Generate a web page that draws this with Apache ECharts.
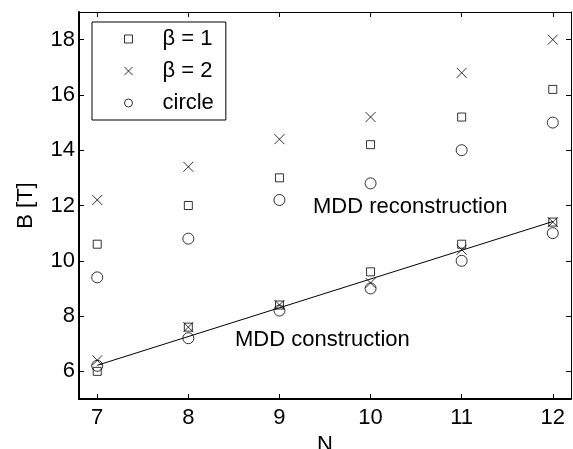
<!DOCTYPE html>
<html>
<head>
<meta charset="utf-8">
<script src="https://cdn.jsdelivr.net/npm/echarts@6/dist/echarts.min.js"></script>
<style>html,body{margin:0;padding:0;background:#fff}#c{width:573px;height:449px}</style>
</head>
<body>
<div id="c"></div>
<script>
var N = [7, 8, 9, 10, 11, 12];
var beta1Recon = [10.6, 12.0, 13.0, 14.2, 15.2, 16.2];
var beta1Con = [6.0, 7.6, 8.4, 9.6, 10.6, 11.4];
var beta2Recon = [12.2, 13.4, 14.4, 15.2, 16.8, 18.0];
var beta2Con = [6.4, 7.6, 8.4, 9.2, 10.4, 11.4];
var circleRecon = [9.4, 10.8, 12.2, 12.8, 14.0, 15.0];
var circleCon = [6.2, 7.2, 8.2, 9.0, 10.0, 11.0];
var fitN = [7, 12];
var fitB = [6.22, 11.42];
var xTicks = [7, 8, 9, 10, 11, 12];
var yTicks = [6, 8, 10, 12, 14, 16, 18];

function pts(xs, a, b) {
  var out = [];
  for (var i = 0; i < xs.length; i++) { out.push([xs[i], a[i]]); }
  if (b) for (var j = 0; j < xs.length; j++) { out.push([xs[j], b[j]]); }
  return out;
}

var FONT = 'Liberation Sans, Arial, Helvetica, sans-serif';
var FS = 22;
var chart = echarts.init(document.getElementById('c'), null, {renderer: 'canvas'});
var xMin = 6.8, xMax = 12.2, yMin = 5, yMax = 19;
var hollow = {color: 'none', borderColor: '#000', borderWidth: 1};
function axis(extra, lw) {
  return Object.assign({
    type: 'value',
    axisLine: {show: true, lineStyle: {color: '#000', width: lw}},
    splitLine: {show: false}
  }, extra);
}
var option = {
  animation: false,
  backgroundColor: '#fff',
  grid: {left: 79, right: 2, top: 12, bottom: 50, containLabel: false, outerBoundsMode: 'none'},
  xAxis: [
    axis({
      position: 'bottom', min: xMin, max: xMax,
      name: 'N', nameLocation: 'middle', nameGap: 27,
      nameTextStyle: {color: '#000', fontSize: FS, fontFamily: FONT},
      axisTick: {show: true, inside: true, length: 5, customValues: xTicks, lineStyle: {color: '#000', width: 1}},
      axisLabel: {show: true, customValues: xTicks, margin: 8, color: '#000', fontSize: FS, fontFamily: FONT}
    }, 2),
    axis({
      position: 'top', min: xMin, max: xMax,
      axisTick: {show: true, inside: true, length: 5, customValues: xTicks, lineStyle: {color: '#000', width: 1}},
      axisLabel: {show: false}
    }, 1)
  ],
  yAxis: [
    axis({
      position: 'left', min: yMin, max: yMax,
      name: 'B [T]', nameLocation: 'middle', nameGap: 42, nameRotate: 90,
      nameTextStyle: {color: '#000', fontSize: FS, fontFamily: FONT},
      axisTick: {show: true, inside: true, length: 5, customValues: yTicks, lineStyle: {color: '#000', width: 1}},
      axisLabel: {show: true, customValues: yTicks, margin: 4, color: '#000', fontSize: FS, fontFamily: FONT}
    }, 2),
    axis({
      position: 'right', min: yMin, max: yMax,
      axisTick: {show: true, inside: true, length: 5, customValues: yTicks, lineStyle: {color: '#000', width: 1}},
      axisLabel: {show: false}
    }, 1)
  ],
  legend: {
    show: true,
    orient: 'vertical',
    left: 92, top: 22,
    backgroundColor: '#fff',
    borderColor: '#000', borderWidth: 1, borderRadius: 0,
    padding: [6, 12, 6, 30],
    itemWidth: 8, itemHeight: 8, itemGap: 10,
    textStyle: {color: '#000', fontSize: FS, fontFamily: FONT, lineHeight: 21, padding: [0, 0, 0, 25]},
    data: [
      {name: 'β = 1', icon: 'rect', itemStyle: hollow},
      {name: 'β = 2', icon: 'path://M0,0L10,10M10,0L0,10', itemStyle: hollow},
      {name: 'circle', icon: 'circle', itemStyle: hollow}
    ]
  },
  series: [
    {
      name: 'fit', type: 'line', data: pts(fitN, fitB), showSymbol: false, symbol: 'none',
      lineStyle: {color: '#000', width: 1}, silent: true, z: 1
    },
    {
      name: 'β = 1', type: 'scatter', data: pts(N, beta1Recon, beta1Con),
      symbol: 'rect', symbolSize: 8, itemStyle: hollow, z: 3
    },
    {
      name: 'β = 2', type: 'scatter', data: pts(N, beta2Recon, beta2Con),
      symbol: 'path://M0,0L10,10M10,0L0,10', symbolSize: 10, itemStyle: hollow, z: 3
    },
    {
      name: 'circle', type: 'scatter', data: pts(N, circleRecon, circleCon),
      symbol: 'circle', symbolSize: 11, itemStyle: hollow, z: 3
    }
  ],
  graphic: [
    {type: 'text', left: 313, top: 196, style: {text: 'MDD reconstruction', fill: '#000', fontSize: FS, fontFamily: FONT}},
    {type: 'text', left: 235, top: 329, style: {text: 'MDD construction', fill: '#000', fontSize: FS, fontFamily: FONT}}
  ]
};
chart.setOption(option);
</script>
</body>
</html>
